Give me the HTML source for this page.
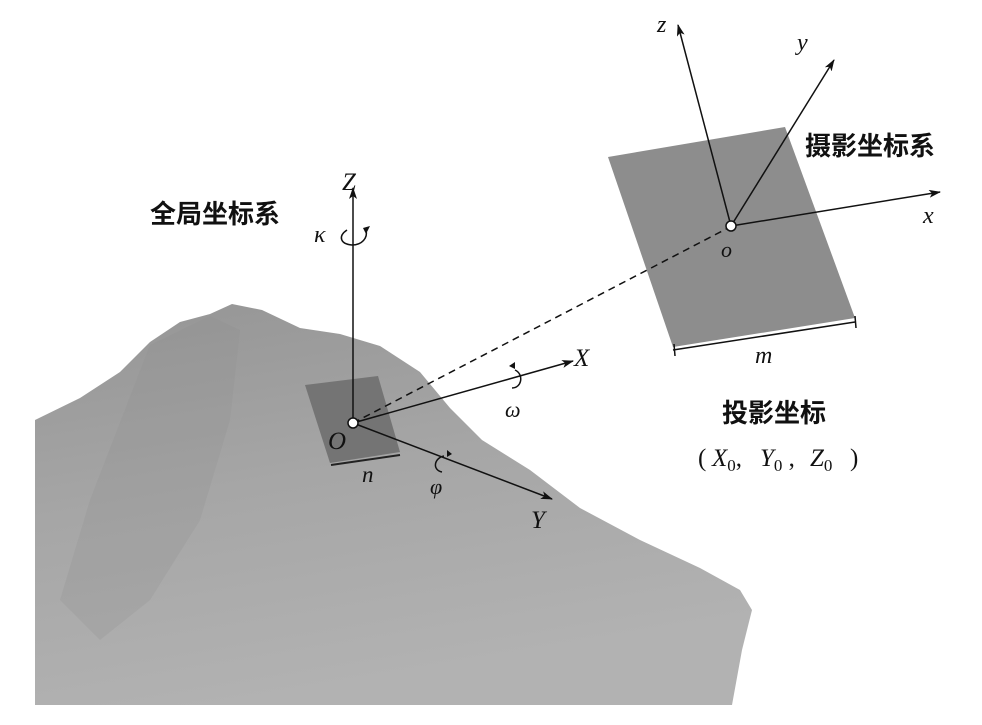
<!DOCTYPE html>
<html><head><meta charset="utf-8"><style>body{margin:0;background:#fff}svg{display:block}
text{font-family:"Liberation Serif",serif;font-style:italic;fill:#111}
.cn{font-family:"Liberation Sans","Noto Sans CJK SC",sans-serif;font-style:normal;font-weight:bold}
.n{font-style:normal}</style></head>
<body><svg width="982" height="725" viewBox="0 0 982 725" xmlns="http://www.w3.org/2000/svg">
<defs>
<marker id="a" markerWidth="12" markerHeight="8" refX="11" refY="4" orient="auto" markerUnits="userSpaceOnUse"><path d="M0,0 L12,4 L0,8 L3,4z" fill="#111"/></marker>
<linearGradient id="m" x1="0" y1="0" x2="0.3" y2="1"><stop offset="0" stop-color="#959595"/><stop offset="0.5" stop-color="#a6a6a6"/><stop offset="1" stop-color="#b2b2b2"/></linearGradient>
</defs>
<path d="M35,420 L80,398 L120,372 L150,342 L180,322 L210,314 L232,304 L262,310 L300,328 L340,334 L380,346 L420,372 L450,408 L482,440 L530,470 L580,508 L640,540 L700,568 L740,590 L752,610 L742,650 L732,705 L35,705Z" fill="url(#m)"/>
<path d="M150,345 L210,316 L240,330 L230,420 L200,520 L150,600 L100,640 L60,600 L90,500Z" fill="#8e8e8e" opacity="0.25"/>
<path d="M608,157 L785,127 L855,318 L673,347Z" fill="#8d8d8d"/>
<line x1="673" y1="350" x2="855" y2="322" stroke="#111" stroke-width="1.5"/>
<line x1="674" y1="344" x2="675" y2="356" stroke="#111" stroke-width="1.5"/>
<line x1="855" y1="316" x2="856" y2="328" stroke="#111" stroke-width="1.5"/>
<path d="M305,385 L378,376 L400,452 L330,463Z" fill="#747474"/>
<line x1="331" y1="465" x2="400" y2="455" stroke="#222" stroke-width="2"/>
<line x1="353" y1="423" x2="728" y2="228" stroke="#111" stroke-width="1.5" stroke-dasharray="7,5"/>
<g stroke="#111" stroke-width="1.5" fill="none">
<line x1="353" y1="423" x2="353" y2="188" marker-end="url(#a)"/>
<line x1="353" y1="423" x2="573" y2="361" marker-end="url(#a)"/>
<line x1="353" y1="423" x2="552" y2="499" marker-end="url(#a)"/>
<line x1="731" y1="226" x2="678" y2="25" marker-end="url(#a)"/>
<line x1="731" y1="226" x2="834" y2="60" marker-end="url(#a)"/>
<line x1="731" y1="226" x2="940" y2="192" marker-end="url(#a)"/>
<path d="M347,230 C338,236 340,244 352,245 C362,245 368,238 366,230"/>
<path d="M515,370 C524,374 522,388 512,388"/>
<path d="M444,456 C434,458 432,470 442,472"/>
</g>
<path d="M370,226 l-4,8 l-3,-6z" fill="#111"/>
<path d="M509,366 l6,-4 l0,7z" fill="#111"/>
<path d="M452,454 l-5,-4 l0,7z" fill="#111"/>
<circle cx="353" cy="423" r="5" fill="#fff" stroke="#111" stroke-width="1.5"/>
<circle cx="731" cy="226" r="5" fill="#fff" stroke="#111" stroke-width="1.5"/>
<text x="342" y="190" font-size="25">Z</text>
<text x="314" y="242" font-size="24">κ</text>
<text x="574" y="366" font-size="25">X</text>
<text x="505" y="417" font-size="22">ω</text>
<text x="328" y="449" font-size="25">O</text>
<text x="362" y="482" font-size="23">n</text>
<text x="430" y="494" font-size="22">φ</text>
<text x="531" y="528" font-size="25">Y</text>
<text x="657" y="32" font-size="24">z</text>
<text x="797" y="50" font-size="24">y</text>
<text x="923" y="223" font-size="24">x</text>
<text x="721" y="257" font-size="22">o</text>
<text x="755" y="363" font-size="24">m</text>
<text class="cn" x="150" y="223" font-size="26">全局坐标系</text>
<text class="cn" x="805" y="155" font-size="26">摄影坐标系</text>
<text class="cn" x="722" y="422" font-size="26">投影坐标</text>
<text class="n" x="698" y="466" font-size="25">(</text>
<text x="712" y="466" font-size="25">X<tspan class="n" font-size="17" dy="5">0</tspan><tspan class="n" dy="-5">,</tspan></text>
<text x="760" y="466" font-size="25">Y<tspan class="n" font-size="17" dy="5">0</tspan><tspan class="n" dy="-5"> ,</tspan></text>
<text x="810" y="466" font-size="25">Z<tspan class="n" font-size="17" dy="5">0</tspan></text>
<text class="n" x="850" y="466" font-size="25">)</text>
</svg></body></html>
